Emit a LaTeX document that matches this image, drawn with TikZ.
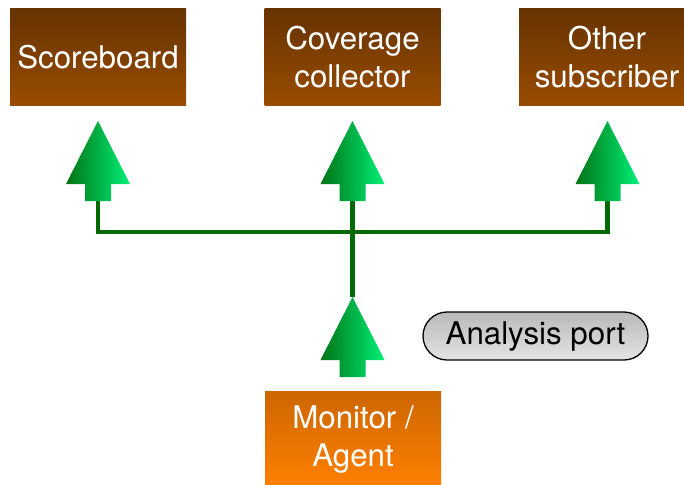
\documentclass[tikz,border=0pt]{standalone}
\usepackage{fontspec}
\setmainfont{TeX Gyre Heros}
\usetikzlibrary{calc}

\definecolor{brownTop}{RGB}{102,51,0}
\definecolor{brownBot}{RGB}{153,76,0}
\definecolor{orangeTop}{RGB}{204,102,0}
\definecolor{orangeBot}{RGB}{255,128,0}
\definecolor{greenDark}{RGB}{0,115,20}
\definecolor{greenLight}{RGB}{0,240,120}
\definecolor{wire}{RGB}{0,105,0}
\definecolor{pillTop}{RGB}{185,185,185}
\definecolor{pillBot}{RGB}{228,228,228}

\tikzset{
  box/.style={minimum width=176pt, minimum height=96pt, inner sep=0pt,
    text=white, align=center,
    font=\fontsize{31.3}{38}\selectfont},
  subscriber/.style={box, top color=brownTop, bottom color=brownBot},
  producer/.style={box, top color=orangeTop, bottom color=orangeBot},
  portlabel/.style={draw=black, line width=1.3pt, rounded corners=24pt,
    minimum width=225pt, minimum height=48pt, inner sep=0pt,
    top color=pillTop, bottom color=pillBot,
    font=\fontsize{31.3}{38}\selectfont},
  portarrow/.style={left color=greenDark, right color=greenLight, draw=none},
  wireline/.style={draw=wire, line width=4.8pt, line join=miter}
}

% port arrow: tip at #1, pointing up; its stem foot becomes coordinate #2
\newcommand{\portarrow}[2]{%
  \path[portarrow] (#1) -- ++(32,63) -- ++(-19,0) -- ++(0,17)
    -- ++(-26,0) -- ++(0,-17) -- ++(-19,0) -- cycle;
  \coordinate (#2) at ($(#1)+(0,80)$);
}

\begin{document}
\begin{tikzpicture}[x=1pt, y=-1pt]
  \useasboundingbox (0,0) rectangle (684,484);

  % subscriber components
  \node[subscriber] (score) at (98,57) {Scoreboard};
  \node[subscriber] (cov)   at (352.5,57) {Coverage\\collector};
  \node[subscriber] (other) at (607,57) {Other\\subscriber};

  % producer
  \node[producer] (mon) at (353,439) {Monitor /\\Agent};

  % legend
  \node[portlabel] (legend) at (535.5,336) {Analysis port};

  % tips of the port arrows
  \coordinate (tipA) at (98,121);
  \coordinate (tipB) at (352.5,121);
  \coordinate (tipC) at (607.5,121);
  \coordinate (tipM) at (352.5,297);

  % broadcast wiring
  \coordinate (footA) at (98,201);
  \coordinate (footB) at (352.5,201);
  \coordinate (footC) at (607.5,201);
  \coordinate (bus)   at (352.5,232);
  \draw[wireline] (footA) |- (bus) -| (footC);
  \draw[wireline] (footB) -- (tipM);

  % port arrows
  \portarrow{tipA}{stemA}
  \portarrow{tipB}{stemB}
  \portarrow{tipC}{stemC}
  \portarrow{tipM}{stemM}
\end{tikzpicture}
\end{document}
